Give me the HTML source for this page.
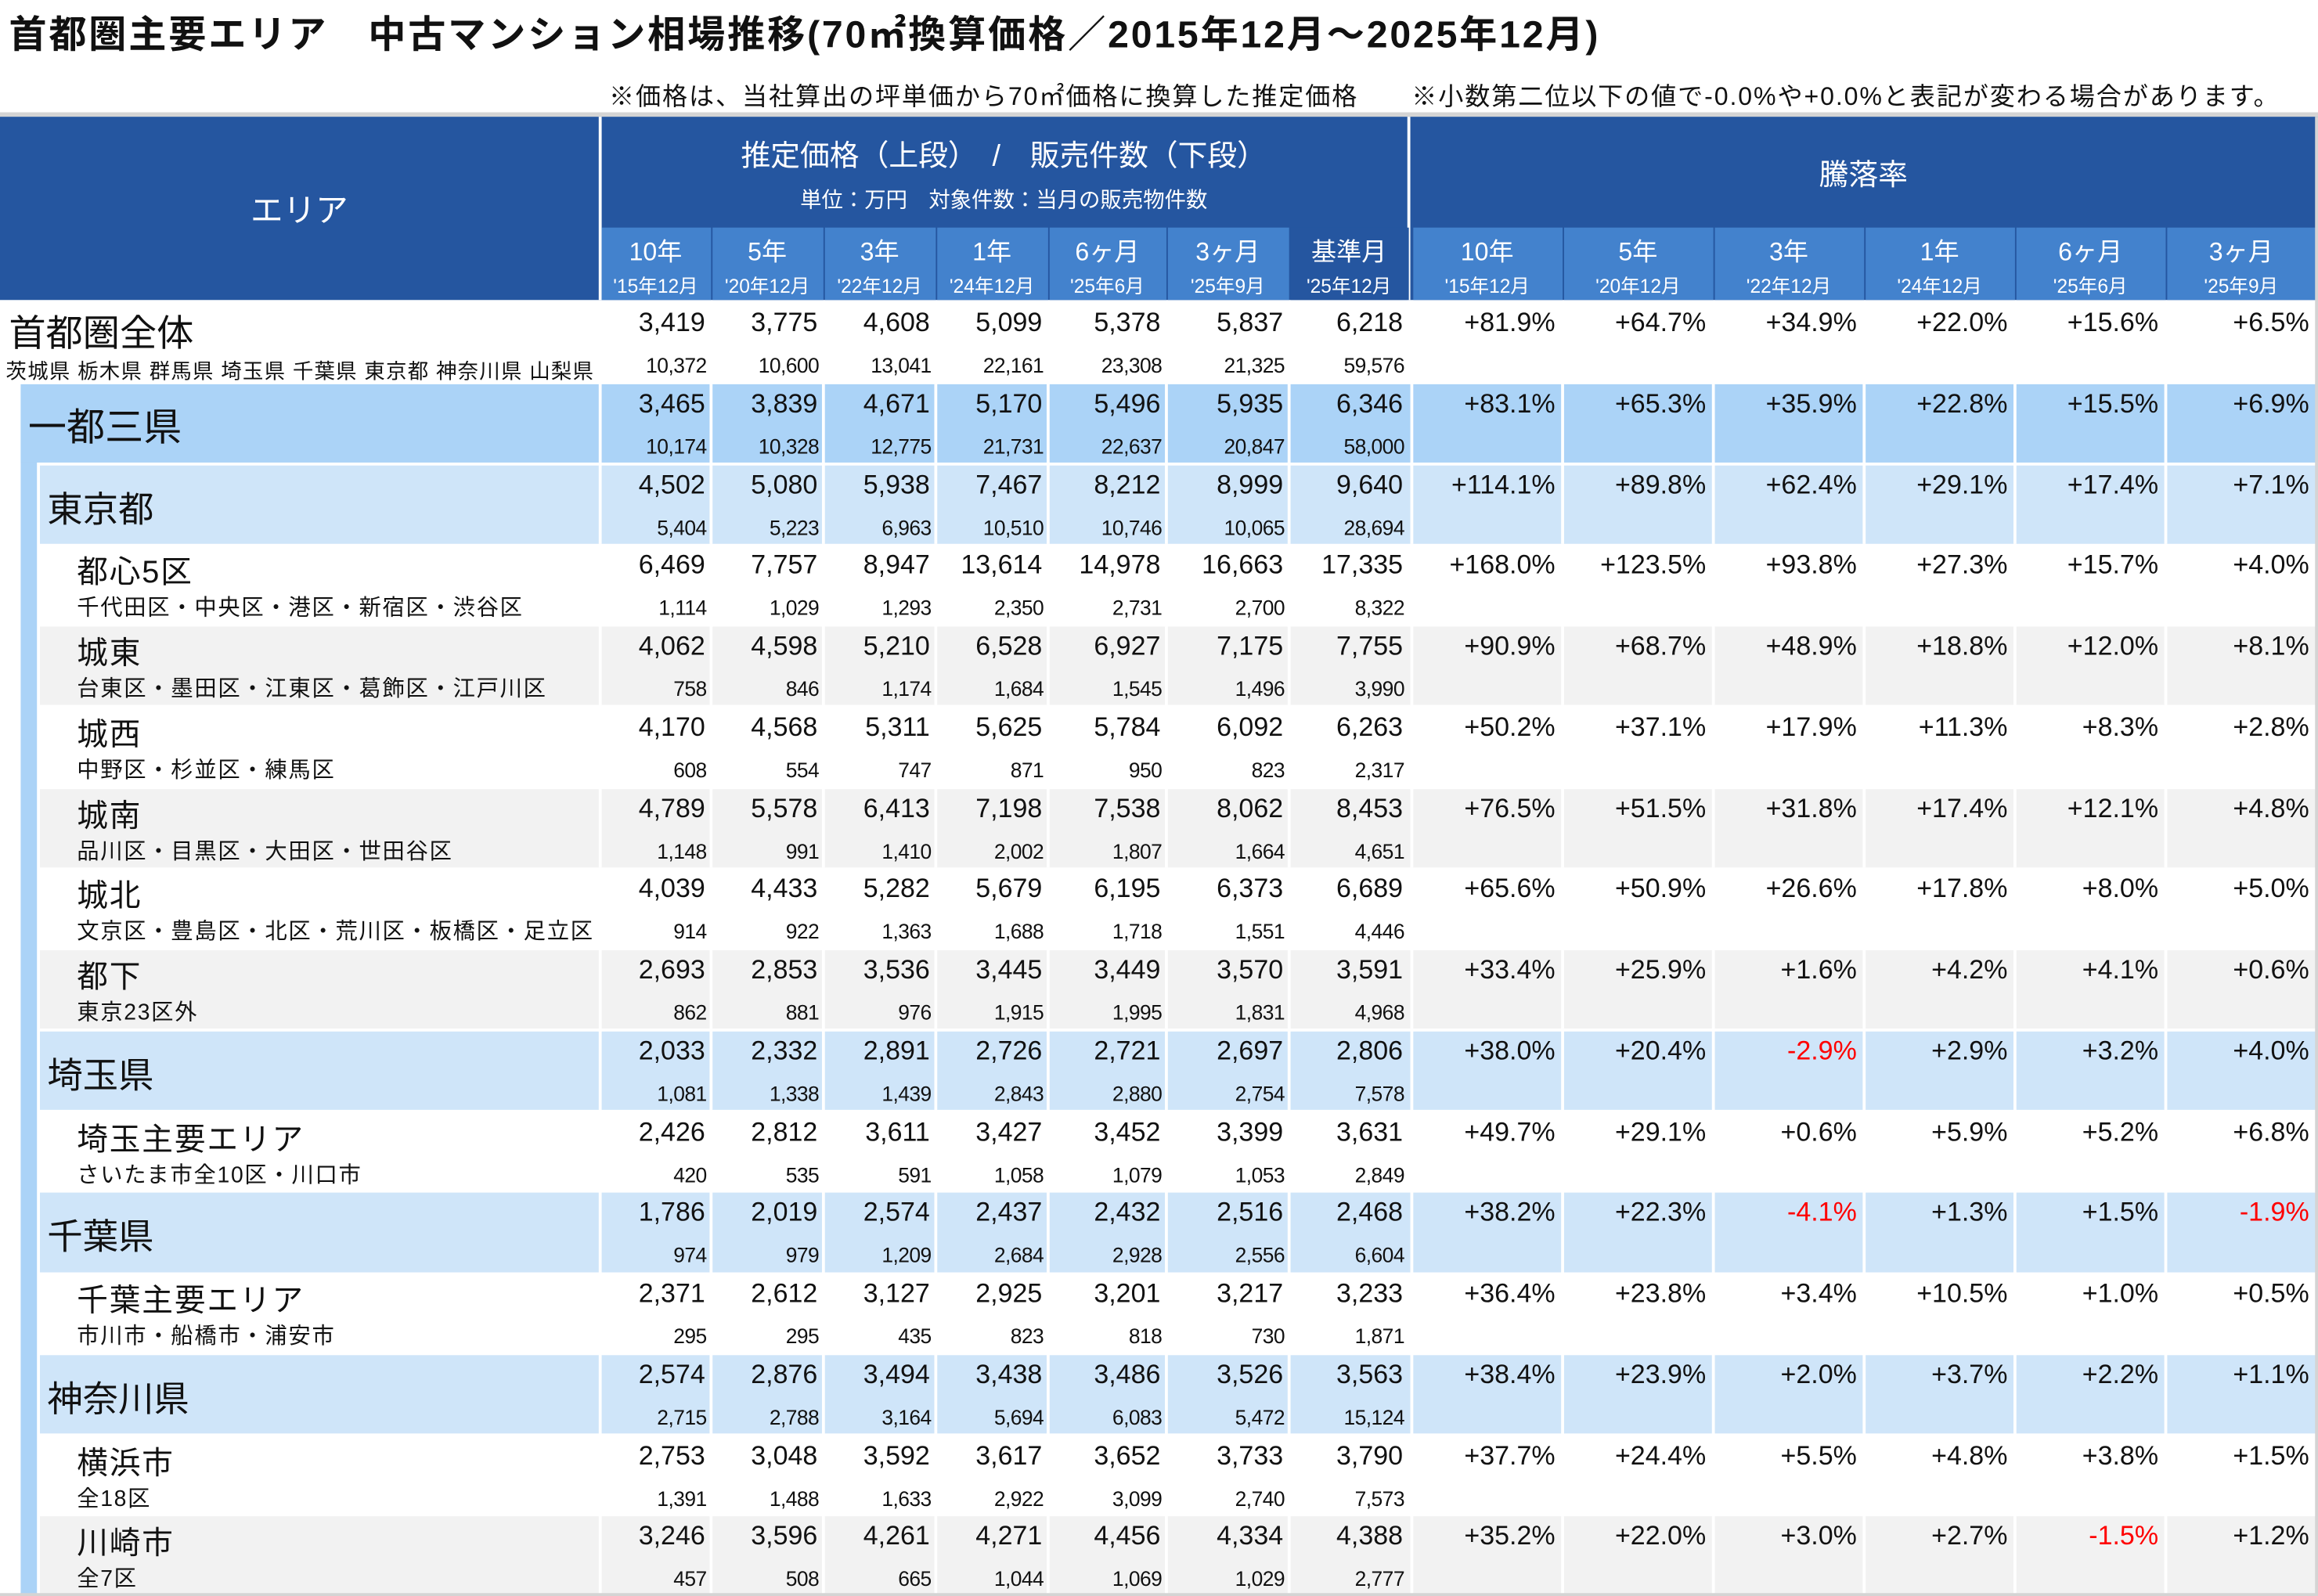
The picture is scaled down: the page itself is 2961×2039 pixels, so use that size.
<!DOCTYPE html>
<html><head><meta charset="utf-8"><style>
html,body{margin:0;padding:0;width:2961px;height:2039px;overflow:hidden;background:#fff}
#root{position:absolute;left:0;top:0;width:1568px;height:1080px;transform:scale(1.8884,1.888);transform-origin:0 0;font-family:"Liberation Sans","Noto Sans CJK JP",sans-serif;color:#111}
.a{position:absolute;white-space:nowrap;box-sizing:border-box}
.hd{color:#fff;text-align:center}
</style></head><body>
<div id="root">
<div class="a" style="left:6px;top:3px;font-size:25.5px;letter-spacing:1.5px;font-weight:bold">首都圏主要エリア　中古マンション相場推移(70㎡換算価格／2015年12月～2025年12月)</div>
<div class="a" style="left:412px;top:51px;font-size:17px;letter-spacing:1px">※価格は、当社算出の坪単価から70㎡価格に換算した推定価格　　※小数第二位以下の値で-0.0%や+0.0%と表記が変わる場合があります。</div>
<div class="a" style="left:0;top:76px;width:1568px;height:3px;background:#d4d4d4"></div>
<div class="a" style="left:0;top:79px;width:1568px;height:124px;background:#2556a0"></div>
<div class="a hd" style="left:0;top:125px;width:405px;font-size:22px">エリア</div>
<div class="a" style="left:405px;top:79px;width:2px;height:124px;background:#fff"></div>
<div class="a" style="left:952px;top:79px;width:2px;height:124px;background:#fff"></div>
<div class="a hd" style="left:406px;top:89px;width:546px;font-size:20px">推定価格（上段）　/　販売件数（下段）</div>
<div class="a hd" style="left:406px;top:124px;width:546px;font-size:14.5px">単位：万円　対象件数：当月の販売物件数</div>
<div class="a hd" style="left:954px;top:102px;width:613px;font-size:20px">騰落率</div>
<div id="grid"></div>
</div>
<script>
const periodLabels=["10年","5年","3年","1年","6ヶ月","3ヶ月","基準月"];
const dateLabels=["'15年12月","'20年12月","'22年12月","'24年12月","'25年6月","'25年9月","'25年12月"];
const areaNames=["首都圏全体","一都三県","東京都","都心5区","城東","城西","城南","城北","都下","埼玉県","埼玉主要エリア","千葉県","千葉主要エリア","神奈川県","横浜市","川崎市"];
const areaSubs=["茨城県 栃木県 群馬県 埼玉県 千葉県 東京都 神奈川県 山梨県","","","千代田区・中央区・港区・新宿区・渋谷区","台東区・墨田区・江東区・葛飾区・江戸川区","中野区・杉並区・練馬区","品川区・目黒区・大田区・世田谷区","文京区・豊島区・北区・荒川区・板橋区・足立区","東京23区外","","さいたま市全10区・川口市","","市川市・船橋市・浦安市","","全18区","全7区"];
const areaLevels=[0,1,2,3,3,3,3,3,3,2,3,2,3,2,3,3];
const prices=[
[3419,3775,4608,5099,5378,5837,6218],[3465,3839,4671,5170,5496,5935,6346],[4502,5080,5938,7467,8212,8999,9640],
[6469,7757,8947,13614,14978,16663,17335],[4062,4598,5210,6528,6927,7175,7755],[4170,4568,5311,5625,5784,6092,6263],
[4789,5578,6413,7198,7538,8062,8453],[4039,4433,5282,5679,6195,6373,6689],[2693,2853,3536,3445,3449,3570,3591],
[2033,2332,2891,2726,2721,2697,2806],[2426,2812,3611,3427,3452,3399,3631],[1786,2019,2574,2437,2432,2516,2468],
[2371,2612,3127,2925,3201,3217,3233],[2574,2876,3494,3438,3486,3526,3563],[2753,3048,3592,3617,3652,3733,3790],
[3246,3596,4261,4271,4456,4334,4388]];
const counts=[
[10372,10600,13041,22161,23308,21325,59576],[10174,10328,12775,21731,22637,20847,58000],[5404,5223,6963,10510,10746,10065,28694],
[1114,1029,1293,2350,2731,2700,8322],[758,846,1174,1684,1545,1496,3990],[608,554,747,871,950,823,2317],
[1148,991,1410,2002,1807,1664,4651],[914,922,1363,1688,1718,1551,4446],[862,881,976,1915,1995,1831,4968],
[1081,1338,1439,2843,2880,2754,7578],[420,535,591,1058,1079,1053,2849],[974,979,1209,2684,2928,2556,6604],
[295,295,435,823,818,730,1871],[2715,2788,3164,5694,6083,5472,15124],[1391,1488,1633,2922,3099,2740,7573],
[457,508,665,1044,1069,1029,2777]];
const rates=[
[81.9,64.7,34.9,22.0,15.6,6.5],[83.1,65.3,35.9,22.8,15.5,6.9],[114.1,89.8,62.4,29.1,17.4,7.1],
[168.0,123.5,93.8,27.3,15.7,4.0],[90.9,68.7,48.9,18.8,12.0,8.1],[50.2,37.1,17.9,11.3,8.3,2.8],
[76.5,51.5,31.8,17.4,12.1,4.8],[65.6,50.9,26.6,17.8,8.0,5.0],[33.4,25.9,1.6,4.2,4.1,0.6],
[38.0,20.4,-2.9,2.9,3.2,4.0],[49.7,29.1,0.6,5.9,5.2,6.8],[38.2,22.3,-4.1,1.3,1.5,-1.9],
[36.4,23.8,3.4,10.5,1.0,0.5],[38.4,23.9,2.0,3.7,2.2,1.1],[37.7,24.4,5.5,4.8,3.8,1.5],
[35.2,22.0,3.0,2.7,-1.5,1.2]];

const g=document.getElementById('grid');
const pE=[406,481,557,633,709,789,872,953];
const rE=[955,1057,1159,1261,1363,1465,1567];
function box(name,css,txt){const d=document.createElement('div');d.className='a';d.style.cssText=css;if(txt!==undefined)d.textContent=txt;


g.appendChild(d);return d;}
for(let i=0;i<7;i++){
 const bg=i==6?'#2556a0':'#4382cd';
 box('price-col-header-'+i,`left:${pE[i]+1}px;top:154px;width:${pE[i+1]-pE[i]-1}px;height:49px;background:${bg}`);
 box('price-col-period-'+i,`left:${pE[i]}px;top:156px;width:${pE[i+1]-pE[i]}px;text-align:center;color:#fff;font-size:17px`,periodLabels[i]);
 box('price-col-date-'+i,`left:${pE[i]}px;top:183px;width:${pE[i+1]-pE[i]}px;text-align:center;color:#fff;font-size:13px`,dateLabels[i]);
}
for(let i=0;i<6;i++){
 box('rate-col-header-'+i,`left:${rE[i]+1}px;top:154px;width:${rE[i+1]-rE[i]-1}px;height:49px;background:#4382cd`);
 box('rate-col-period-'+i,`left:${rE[i]}px;top:156px;width:${rE[i+1]-rE[i]}px;text-align:center;color:#fff;font-size:17px`,periodLabels[i]);
 box('rate-col-date-'+i,`left:${rE[i]}px;top:183px;width:${rE[i+1]-rE[i]}px;text-align:center;color:#fff;font-size:13px`,dateLabels[i]);
}
const top0=204,rh=54.75;
box('left-strip',`left:14px;top:262px;width:11px;height:818px;background:#abd3f7`);
for(let r=0;r<areaNames.length;r++){
 const y=top0+r*rh, lv=areaLevels[r];
 let bg='#fff';
 if(lv==1)bg='#abd3f7';else if(lv==2)bg='#cfe5f9';
 else if(lv==3){bg=(r==4||r==6||r==8||r==15)?'#f2f2f2':'#fff';}
 const x0=lv==0?0:(lv==1?14:27);
 box('row-bg-'+r,`left:${x0}px;top:${y+1}px;width:${1567-x0}px;height:${rh-1.5}px;background:${bg}`);
 if(lv==0){
  box('area-name-'+r,`left:6px;top:${y+2}px;font-size:25px`,areaNames[r]);
  box('area-sub-'+r,`left:4px;top:${y+37}px;font-size:14px;letter-spacing:0.65px`,areaSubs[r]);
 }else if(lv==1){
  box('area-name-'+r,`left:19px;top:${y+10}px;font-size:26px`,areaNames[r]);
 }else if(lv==2){
  box('area-name-'+r,`left:32px;top:${y+11}px;font-size:24px`,areaNames[r]);
 }else{
  box('area-name-'+r,`left:52px;top:${y+3}px;font-size:21px;letter-spacing:1px`,areaNames[r]);
  box('area-sub-'+r,`left:52px;top:${y+32}px;font-size:15px;letter-spacing:0.9px`,areaSubs[r]);
 }
 for(let c=0;c<7;c++){
  box('price-sep-'+r+'-'+c,`left:${pE[c]-1}px;top:${y}px;width:1.5px;height:${rh}px;background:#fff`);
  box('price-'+r+'-'+c,`left:${pE[c]}px;top:${y+4}px;width:${pE[c+1]-pE[c]-4}px;text-align:right;font-size:18px`,prices[r][c].toLocaleString('en-US'));
  box('count-'+r+'-'+c,`left:${pE[c]}px;top:${y+35}px;width:${pE[c+1]-pE[c]-3}px;text-align:right;font-size:14px;letter-spacing:-0.3px`,counts[r][c].toLocaleString('en-US'));
 }
 for(let c=0;c<6;c++){
  box('rate-sep-'+r+'-'+c,`left:${rE[c]-1}px;top:${y}px;width:1.5px;height:${rh}px;background:#fff`);
  const v=rates[r][c];
  box('rate-'+r+'-'+c,`left:${rE[c]}px;top:${y+4}px;width:${rE[c+1]-rE[c]-5}px;text-align:right;font-size:18px;color:${v<0?'#ff0000':'#111'}`,(v<0?'-':'+')+Math.abs(v).toFixed(1)+'%');
 }
}
box('table-bottom-border',`left:0;top:1078px;width:1568px;height:2px;background:#d4d4d4`);
box('table-right-border',`left:1566px;top:79px;width:2px;height:1001px;background:#d4d4d4`);
</script>
</body></html>
